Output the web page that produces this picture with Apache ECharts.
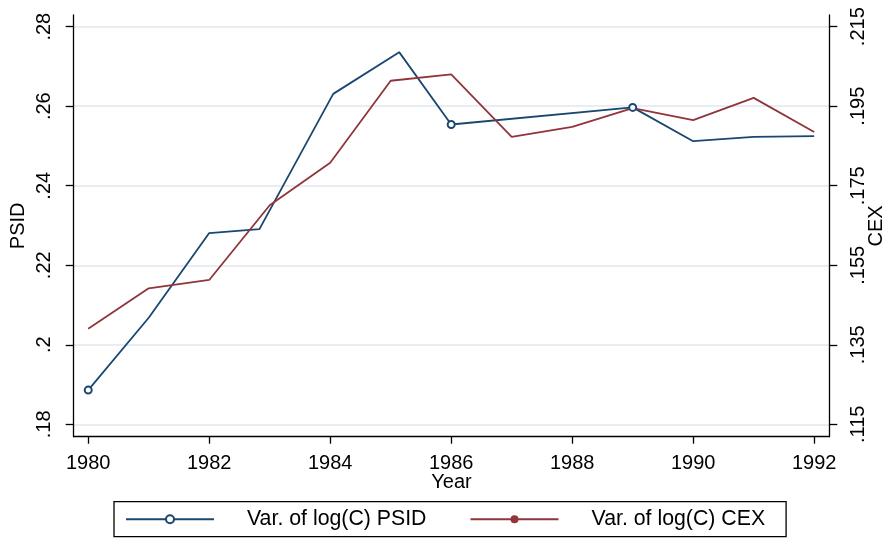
<!DOCTYPE html>
<html>
<head>
<meta charset="utf-8">
<script src="https://cdn.jsdelivr.net/npm/echarts@6/dist/echarts.min.js"></script>
<style>html,body{margin:0;padding:0;background:#fff}#c{width:891px;height:538px}</style>
</head>
<body>
<div id="c"></div>
<script>
// PSID series (left axis): x positions (years) and values
const psidYears  = [1980, 1981, 1982, 1982.83, 1984.05, 1985.14, 1986, 1989, 1990, 1991, 1992];
const psidValues = [0.1886, 0.2068, 0.2281, 0.2291, 0.2631, 0.2736, 0.2554, 0.2597, 0.2512, 0.2523, 0.2525];
const psidMarked = [1980, 1986, 1989];
// CEX series (right axis)
const cexYears  = [1980, 1981, 1982, 1983, 1984, 1985, 1986, 1987, 1988, 1989, 1990, 1991, 1992];
const cexValues = [0.139, 0.1492, 0.1513, 0.1701, 0.1808, 0.2014, 0.203, 0.1873, 0.1898, 0.1945, 0.1915, 0.1971, 0.1885];
// tick labels
const xTicks = [1980, 1982, 1984, 1986, 1988, 1990, 1992];
const leftTicks = [0.18, 0.20, 0.22, 0.24, 0.26, 0.28];
const rightTicks = [0.115, 0.135, 0.155, 0.175, 0.195, 0.215];

const FONT = '"Liberation Sans", Arial, Helvetica, sans-serif';
const BLUE = '#1a476f', RED = '#90353b', GRID = '#e1e7f1';
const fmt = v => { let s = String(+v.toFixed(4)); return s.replace(/^0\./, '.'); };

const chart = echarts.init(document.getElementById('c'), null, {renderer: 'canvas'});
const FS = 20;
const axisLabelBase = {color: '#000', fontFamily: FONT, fontSize: FS};
chart.setOption({
  backgroundColor: '#fff',
  animation: false,
  grid: {left: 73.7, right: 61.7, top: 15, bottom: 101.3, containLabel: false, outerBoundsMode: 'none'},
  xAxis: {
    type: 'value', min: 1979.76, max: 1992.25,
    name: 'Year', nameLocation: 'middle', nameGap: 36, nameMoveOverlap: false,
    nameTextStyle: {color: '#000', fontFamily: FONT, fontSize: FS},
    axisLine: {show: true, onZero: false, lineStyle: {color: '#000', width: 1.3}},
    axisTick: {show: true, length: 7, customValues: xTicks, lineStyle: {color: '#000', width: 1.3}},
    axisLabel: Object.assign({margin: 17, customValues: xTicks, formatter: v => String(v)}, axisLabelBase),
    splitLine: {show: false}
  },
  yAxis: [{
    type: 'value', position: 'left', min: 0.17688, max: 0.28294,
    name: 'PSID', nameLocation: 'middle', nameGap: 45, nameRotate: 90, nameMoveOverlap: false,
    nameTextStyle: {color: '#000', fontFamily: FONT, fontSize: FS},
    axisLine: {show: true, lineStyle: {color: '#000', width: 1.3}},
    axisTick: {show: true, length: 8, customValues: leftTicks, lineStyle: {color: '#000', width: 1.3}},
    axisLabel: Object.assign({margin: 29, rotate: 90, customValues: leftTicks, formatter: fmt, align: 'center', verticalAlign: 'middle'}, axisLabelBase),
    splitLine: {show: true, customValues: leftTicks, lineStyle: {color: GRID, width: 1.5}}
  }, {
    type: 'value', position: 'right', min: 0.11188, max: 0.21794,
    name: 'CEX', nameLocation: 'middle', nameGap: 37, nameRotate: 90, nameMoveOverlap: false,
    nameTextStyle: {color: '#000', fontFamily: FONT, fontSize: FS},
    axisLine: {show: true, lineStyle: {color: '#000', width: 1.3}},
    axisTick: {show: true, length: 8, customValues: rightTicks, lineStyle: {color: '#000', width: 1.3}},
    axisLabel: Object.assign({margin: 29, rotate: 90, customValues: rightTicks, formatter: fmt, align: 'center', verticalAlign: 'middle'}, axisLabelBase),
    splitLine: {show: false}
  }],
  legend: {
    left: 114, top: 501.7, orient: 'horizontal',
    padding: [7, 21, 7, 11], itemGap: 43,
    itemWidth: 88, itemHeight: 10,
    borderColor: '#000', borderWidth: 1.3, borderRadius: 0,
    textStyle: {color: '#000', fontFamily: FONT, fontSize: 21.3, padding: [0, 0, 0, 28]},
    data: ['Var. of log(C) PSID', 'Var. of log(C) CEX']
  },
  series: [{
    name: 'Var. of log(C) PSID', type: 'line', yAxisIndex: 0,
    symbol: 'emptyCircle', symbolSize: 7, showSymbol: true,
    color: BLUE,
    lineStyle: {color: BLUE, width: 1.8},
    itemStyle: {color: BLUE, borderWidth: 1.5},
    data: psidYears.map((y, i) => ({
      value: [y, psidValues[i]],
      symbol: psidMarked.includes(y) ? 'emptyCircle' : 'none'
    }))
  }, {
    name: 'Var. of log(C) CEX', type: 'line', yAxisIndex: 1,
    symbol: 'circle', symbolSize: 7, showSymbol: false,
    color: RED,
    lineStyle: {color: RED, width: 1.8},
    itemStyle: {color: RED},
    data: cexYears.map((y, i) => [y, cexValues[i]])
  }]
});
</script>
</body>
</html>
